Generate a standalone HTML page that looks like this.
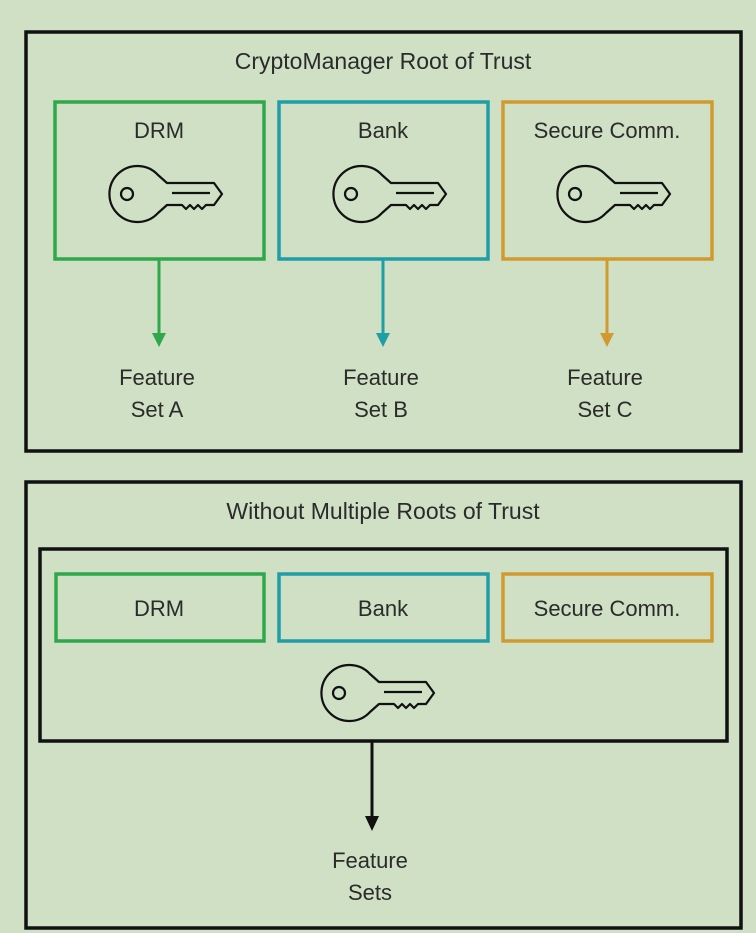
<!DOCTYPE html>
<html><head><style>
html,body{margin:0;padding:0;background:#cfe0c4;}
svg{display:block}
text{font-family:"Liberation Sans",sans-serif;font-size:22px;fill:#2b2b2b;text-anchor:middle}
</style></head><body>
<svg width="756" height="933" viewBox="0 0 756 933">
<defs>
<g id="key" fill="none" stroke="#111" stroke-width="2.2" stroke-linejoin="round">
<path d="M20,-19 A28,28 0 1 0 20,19 L29,11 L44,11 L48,15 L52,11 L56,15 L60,11 L64,15 L68,11 L76,11 L84,0 L76,-11 L29,-11 Z"/>
<path d="M34,-1 L72,-1"/>
<circle cx="-11" cy="0" r="6"/>
</g>
</defs>
<rect x="26" y="32" width="715" height="419" fill="none" stroke="#111" stroke-width="3.5"/>
<text x="383" y="69" style="font-size:23px">CryptoManager Root of Trust</text>
<rect x="55" y="102" width="209" height="157" fill="none" stroke="#2ea84a" stroke-width="3.5"/>
<rect x="279" y="102" width="209" height="157" fill="none" stroke="#1f9ea6" stroke-width="3.5"/>
<rect x="503" y="102" width="209" height="157" fill="none" stroke="#d19a30" stroke-width="3.5"/>
<text x="159" y="138">DRM</text>
<text x="383" y="138">Bank</text>
<text x="607" y="138">Secure Comm.</text>
<use href="#key" x="138" y="194"/>
<use href="#key" x="362" y="194"/>
<use href="#key" x="586" y="194"/>
<line x1="159" y1="260" x2="159" y2="335" stroke="#2ea84a" stroke-width="3"/>
<path d="M152,333 L166,333 L159,347Z" fill="#2ea84a"/>
<line x1="383" y1="260" x2="383" y2="335" stroke="#1f9ea6" stroke-width="3"/>
<path d="M376,333 L390,333 L383,347Z" fill="#1f9ea6"/>
<line x1="607" y1="260" x2="607" y2="335" stroke="#d19a30" stroke-width="3"/>
<path d="M600,333 L614,333 L607,347Z" fill="#d19a30"/>
<text x="157" y="385">Feature</text><text x="157" y="417">Set A</text>
<text x="381" y="385">Feature</text><text x="381" y="417">Set B</text>
<text x="605" y="385">Feature</text><text x="605" y="417">Set C</text>

<rect x="26" y="482" width="715" height="446" fill="none" stroke="#111" stroke-width="3.5"/>
<text x="383" y="519" style="font-size:23px">Without Multiple Roots of Trust</text>
<rect x="40" y="549" width="687" height="192" fill="none" stroke="#111" stroke-width="3.5"/>
<rect x="56" y="574" width="208" height="67" fill="none" stroke="#2ea84a" stroke-width="3.5"/>
<rect x="279" y="574" width="209" height="67" fill="none" stroke="#1f9ea6" stroke-width="3.5"/>
<rect x="503" y="574" width="209" height="67" fill="none" stroke="#d19a30" stroke-width="3.5"/>
<text x="159" y="616">DRM</text>
<text x="383" y="616">Bank</text>
<text x="607" y="616">Secure Comm.</text>
<use href="#key" x="350" y="693"/>
<line x1="372" y1="742" x2="372" y2="818" stroke="#111" stroke-width="3"/>
<path d="M365,816 L379,816 L372,831Z" fill="#111"/>
<text x="370" y="868">Feature</text><text x="370" y="900">Sets</text>
</svg>
</body></html>
